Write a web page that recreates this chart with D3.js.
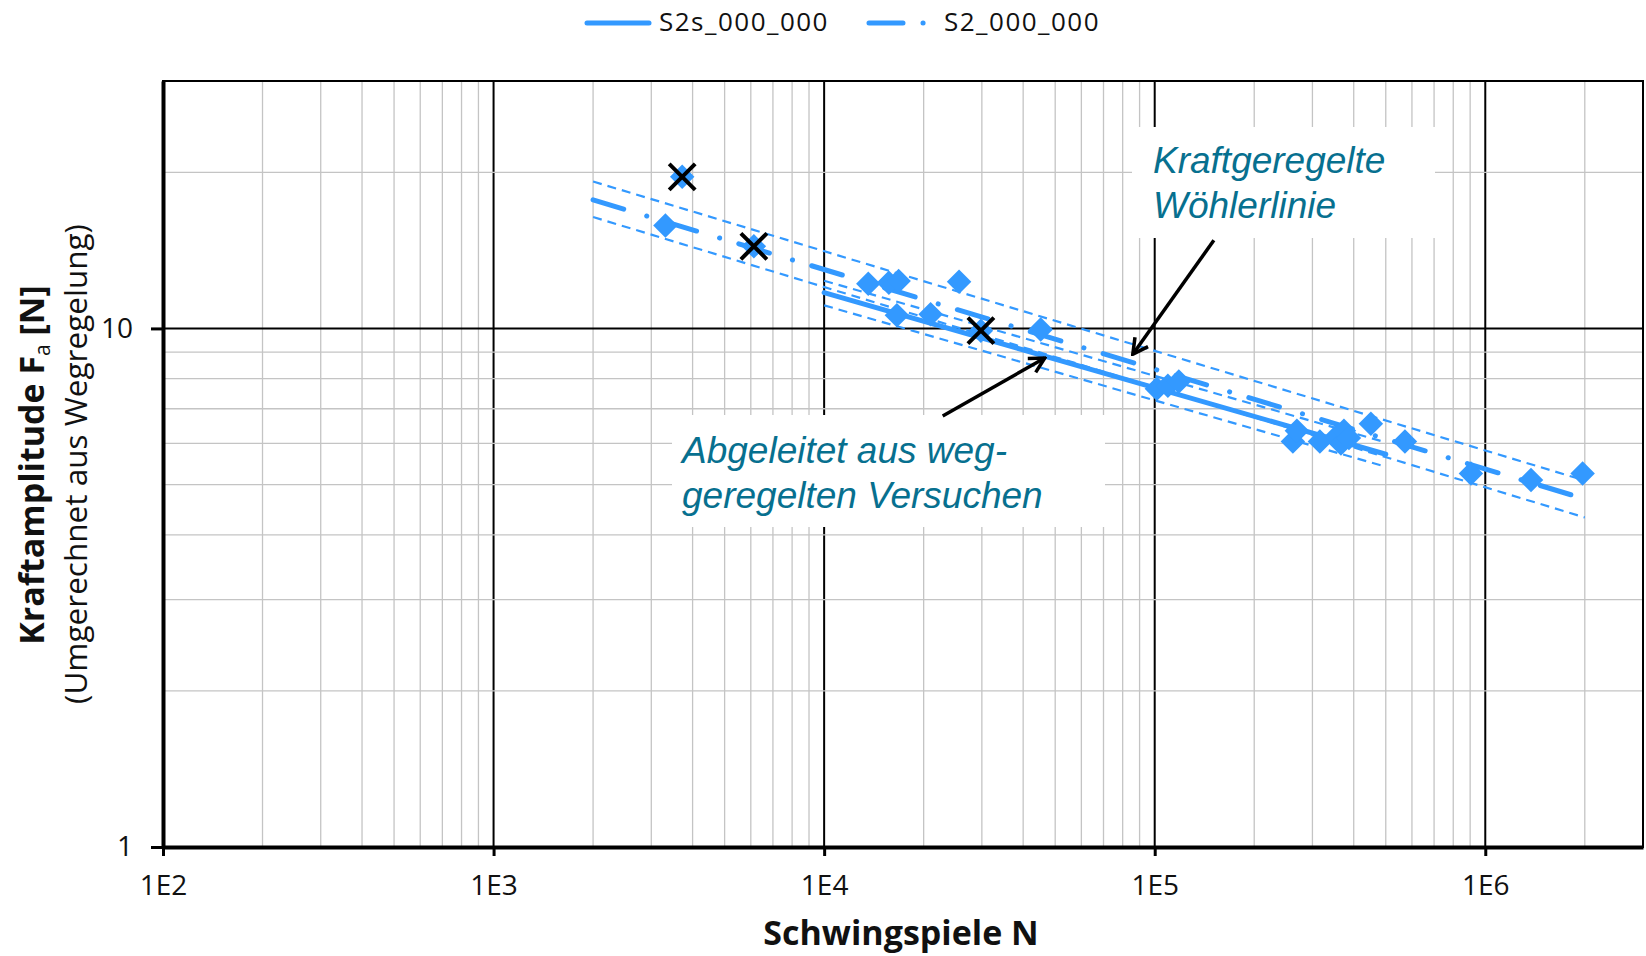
<!DOCTYPE html>
<html>
<head>
<meta charset="utf-8">
<script src="https://cdn.jsdelivr.net/npm/d3@7"></script>
<style>
  body { margin: 0; background: #fff; }
  svg { font-family: "Open Sans", "Noto Sans", sans-serif; }
</style>
</head>
<body>
<div id="chart"></div>
<script>
// axis ticks
const xTickValues = [1e2, 1e3, 1e4, 1e5, 1e6];
const xTickLabels = ['1E2', '1E3', '1E4', '1E5', '1E6'];
const yTickValues = [1, 10];
const yTickLabels = ['1', '10'];

const seriesNames = ['S2s_000_000', 'S2_000_000'];

// test results (Schwingspiele N, Kraftamplitude Fa)
const nTest = [3310, 3720, 6130, 13600, 15700, 16800, 25600, 16600, 21000, 29800, 45200,
  101500, 109600, 118300, 261800, 269200, 316000, 355800, 365900, 373600, 386800,
  450800, 571500, 905000, 1375000, 1970000];
const fTest = [15.8, 19.6, 14.4, 12.2, 12.25, 12.35, 12.3, 10.6, 10.65, 9.9, 9.95,
  7.65, 7.75, 7.9, 6.05, 6.35, 6.05, 6.2, 6.0, 6.35, 6.15,
  6.55, 6.05, 5.25, 5.1, 5.25];

// crossed out points
const nCross = [3720, 6130, 29800];
const fCross = [19.6, 14.4, 9.9];

// S2s (derived) line + scatter band
const nS2s = [1e4, 5e5];
const fS2s = [11.72, 5.72];
const fS2sUpper = [12.36, 6.03];
const fS2sLower = [11.08, 5.41];

// S2 (force controlled) line + scatter band
const nS2 = [2000, 2e6];
const fS2 = [17.7, 4.69];
const fS2Upper = [19.2, 5.09];
const fS2Lower = [16.4, 4.32];

let config = { svg: {}, plot: {} };
config.svg.width = 1646;
config.svg.height = 956;
config.plot.left = 163;
config.plot.right = 1643;
config.plot.top = 81;
config.plot.bottom = 847;

const blue = '#3399ff';
const teal = '#07708f';

let svg = d3.select('#chart').append('svg')
  .attr('width', config.svg.width)
  .attr('height', config.svg.height);

let x = d3.scaleLog().domain([100, 3e6]).range([config.plot.left, config.plot.right]);
let y = d3.scaleLog().domain([1, 30]).range([config.plot.bottom, config.plot.top]);

function isDecade(v) {
  let l = Math.log10(v);
  return Math.abs(l - Math.round(l)) < 1e-9;
}

// grid
let grid = svg.append('g');
grid.selectAll('line.gx')
  .data(x.ticks().filter(d => d > 100 && d < 3e6))
  .join('line')
  .attr('x1', d => x(d)).attr('x2', d => x(d))
  .attr('y1', config.plot.top).attr('y2', config.plot.bottom)
  .attr('stroke', d => isDecade(d) ? '#000' : '#c4c4c4')
  .attr('stroke-width', d => isDecade(d) ? 2 : 1.3);
grid.selectAll('line.gy')
  .data(y.ticks().filter(d => d > 1 && d < 30))
  .join('line')
  .attr('y1', d => y(d)).attr('y2', d => y(d))
  .attr('x1', config.plot.left).attr('x2', config.plot.right)
  .attr('stroke', d => isDecade(d) ? '#000' : '#c4c4c4')
  .attr('stroke-width', d => isDecade(d) ? 2 : 1.3);

svg.append('rect')
  .attr('x', config.plot.left).attr('y', config.plot.top)
  .attr('width', config.plot.right - config.plot.left)
  .attr('height', config.plot.bottom - config.plot.top)
  .attr('fill', 'none').attr('stroke', '#000').attr('stroke-width', 2);

// axes
let xAxis = svg.append('g')
  .attr('transform', 'translate(0,' + config.plot.bottom + ')')
  .call(d3.axisBottom(x).tickValues(xTickValues)
    .tickFormat((d, i) => xTickLabels[i]).tickSize(9).tickSizeOuter(0).tickPadding(19));
let yAxis = svg.append('g')
  .attr('transform', 'translate(' + config.plot.left + ',0)')
  .call(d3.axisLeft(y).tickValues(yTickValues)
    .tickFormat((d, i) => yTickLabels[i]).tickSize(12).tickSizeOuter(0).tickPadding(18));
[xAxis, yAxis].forEach(function(a) {
  a.select('.domain').attr('stroke', '#000').attr('stroke-width', 4);
  a.selectAll('.tick line').attr('stroke', '#000').attr('stroke-width', 3);
  a.selectAll('.tick text')
    .attr('font-size', 28).attr('fill', '#111')
    .attr('font-family', '"Open Sans", sans-serif');
});

// text boxes (white background over grid)
svg.append('rect').attr('x', 1132).attr('y', 127).attr('width', 303).attr('height', 111).attr('fill', '#fff');
svg.append('rect').attr('x', 672).attr('y', 415).attr('width', 433).attr('height', 112).attr('fill', '#fff');

// lines
let line = d3.line().x(d => x(d[0])).y(d => y(d[1]));
let plot = svg.append('g');

[fS2Upper, fS2Lower].forEach(function(f) {
  plot.append('path').datum(d3.zip(nS2, f))
    .attr('d', line).attr('fill', 'none')
    .attr('stroke', blue).attr('stroke-width', 2.2)
    .attr('stroke-dasharray', '9,6');
});
[fS2sUpper, fS2sLower].forEach(function(f) {
  plot.append('path').datum(d3.zip(nS2s, f))
    .attr('d', line).attr('fill', 'none')
    .attr('stroke', blue).attr('stroke-width', 2.2)
    .attr('stroke-dasharray', '9,6');
});
plot.append('path').datum(d3.zip(nS2, fS2))
  .attr('d', line).attr('fill', 'none')
  .attr('stroke', blue).attr('stroke-width', 5)
  .attr('stroke-linecap', 'round')
  .attr('stroke-dasharray', '32,24,0.1,20');
plot.append('path').datum(d3.zip(nS2s, fS2s))
  .attr('d', line).attr('fill', 'none')
  .attr('stroke', blue).attr('stroke-width', 5)
  .attr('stroke-linecap', 'round');

// points
plot.selectAll('path.pt')
  .data(d3.zip(nTest, fTest))
  .join('path')
  .attr('class', 'pt')
  .attr('d', d3.symbol(d3.symbolSquare, 300))
  .attr('transform', d => 'translate(' + x(d[0]) + ',' + y(d[1]) + ') rotate(45)')
  .attr('fill', blue);

plot.selectAll('path.cross')
  .data(d3.zip(nCross, fCross))
  .join('path')
  .attr('class', 'cross')
  .attr('d', 'M-13,-13L13,13M-13,13L13,-13')
  .attr('transform', d => 'translate(' + x(d[0]) + ',' + y(d[1]) + ')')
  .attr('stroke', '#000').attr('stroke-width', 4).attr('fill', 'none');

// annotations
svg.append('defs').append('marker')
  .attr('id', 'arrow')
  .attr('markerUnits', 'userSpaceOnUse')
  .attr('viewBox', '0 0 20 20')
  .attr('markerWidth', 20).attr('markerHeight', 20)
  .attr('refX', 18).attr('refY', 10)
  .attr('orient', 'auto')
  .append('path')
  .attr('d', 'M3,2L18,10L3,18')
  .attr('fill', 'none').attr('stroke', '#000').attr('stroke-width', 3.5);

let arrows = [
  [[151000, 14.79], [85850, 8.92]],
  [[22840, 6.78], [46500, 8.77]]
];
svg.selectAll('line.arrow')
  .data(arrows)
  .join('line')
  .attr('x1', d => x(d[0][0])).attr('y1', d => y(d[0][1]))
  .attr('x2', d => x(d[1][0])).attr('y2', d => y(d[1][1]))
  .attr('stroke', '#000').attr('stroke-width', 3.5)
  .attr('marker-end', 'url(#arrow)');

function note(lines, px, py) {
  let t = svg.append('text')
    .attr('font-family', '"Liberation Sans", Arial, sans-serif')
    .attr('font-style', 'italic')
    .attr('font-size', 37)
    .attr('fill', teal);
  lines.forEach(function(s, i) {
    t.append('tspan').attr('x', px).attr('y', py + i * 45).text(s);
  });
}
note(['Kraftgeregelte', 'Wöhlerlinie'], 1153, 173);
note(['Abgeleitet aus weg-', 'geregelten Versuchen'], 682, 463);

// axis titles
svg.append('text')
  .attr('x', 901).attr('y', 945)
  .attr('text-anchor', 'middle')
  .attr('font-size', 34).attr('font-weight', 'bold').attr('fill', '#111')
  .text('Schwingspiele N');

let yt = svg.append('text')
  .attr('transform', 'translate(44,465) rotate(-90)')
  .attr('text-anchor', 'middle')
  .attr('font-size', 34).attr('font-weight', 'bold').attr('fill', '#111');
yt.append('tspan').text('Kraftamplitude F');
yt.append('tspan').attr('font-size', 21).attr('font-weight', 'normal').attr('dy', 6).text('a');
yt.append('tspan').attr('dy', -6).text(' [N]');

svg.append('text')
  .attr('transform', 'translate(87,464) rotate(-90)')
  .attr('text-anchor', 'middle')
  .attr('font-size', 31.5).attr('fill', '#111')
  .text('(Umgerechnet aus Wegregelung)');

// legend
let legend = svg.append('g');
legend.append('line')
  .attr('x1', 587).attr('x2', 649).attr('y1', 23).attr('y2', 23)
  .attr('stroke', blue).attr('stroke-width', 5).attr('stroke-linecap', 'round');
legend.append('text').attr('x', 659).attr('y', 31)
  .attr('font-size', 26).attr('letter-spacing', 1.5).attr('fill', '#111')
  .text(seriesNames[0]);
legend.append('line')
  .attr('x1', 869).attr('x2', 925).attr('y1', 23).attr('y2', 23)
  .attr('stroke', blue).attr('stroke-width', 5).attr('stroke-linecap', 'round')
  .attr('stroke-dasharray', '34,20,0.1,40');
legend.append('text').attr('x', 944).attr('y', 31)
  .attr('font-size', 26).attr('letter-spacing', 1.5).attr('fill', '#111')
  .text(seriesNames[1]);
</script>
</body>
</html>
